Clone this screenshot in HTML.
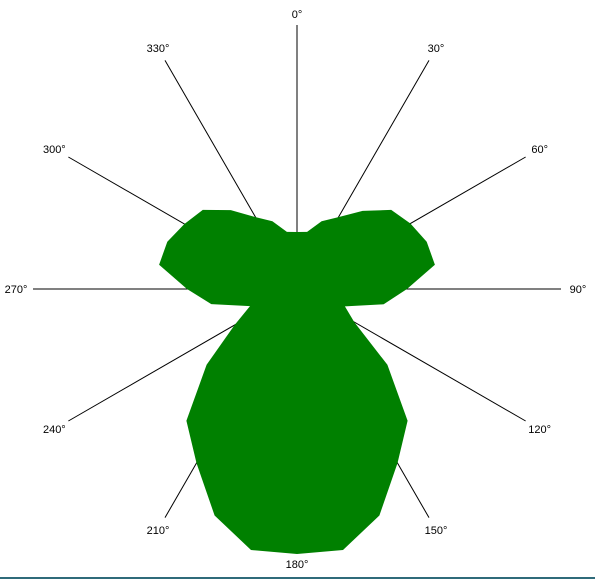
<!DOCTYPE html>
<html><head><meta charset="utf-8"><style>
html,body{margin:0;padding:0;background:#fff;width:595px;height:579px;overflow:hidden}
svg{display:block;font-family:"Liberation Sans",sans-serif;font-size:11px}
</style></head><body>
<svg id="chart" width="595" height="579" viewBox="0 0 595 579" xmlns="http://www.w3.org/2000/svg">
<g id="spokes"></g>
<g id="area"></g>
<g id="labels"></g>
<rect x="0" y="577" width="595" height="2" fill="#2f6b7a"></rect>
</svg>
<script>
const axisAngles = [0,30,60,90,120,150,180,210,240,270,300,330];
const axisLabels = ["0°","30°","60°","90°","120°","150°","180°","210°","240°","270°","300°","330°"];
const seriesAngles = [0,10,20,30,40,50,60,70,80,90,100,110,120,130,140,150,160,170,180,190,200,210,220,230,240,250,260,270,280,290,300,310,320,330,340,350];
const seriesValues = [57,58,72,83,102,123,131,138,140,110,88,51,66,118,172,201,241,265,265,265,241,201,172,118,72,50,87,110,140,138,130,123,103,83,72,58];
const maxValue = 264;

const NS = "http://www.w3.org/2000/svg";
const cx = 297, cy = 289, R = 264;
function rScale(v){ return v / maxValue * R; }
function pt(angleDeg, r){
  const a = angleDeg * Math.PI / 180;
  return [cx + r * Math.sin(a), cy - r * Math.cos(a)];
}
const spokes = document.getElementById('spokes');
const labels = document.getElementById('labels');
axisAngles.forEach((ang, i) => {
  const [x, y] = pt(ang, R);
  const ln = document.createElementNS(NS, 'line');
  ln.setAttribute('x1', cx); ln.setAttribute('y1', cy);
  ln.setAttribute('x2', x); ln.setAttribute('y2', y);
  ln.setAttribute('stroke', '#000'); ln.setAttribute('stroke-width', '1');
  
  
  spokes.appendChild(ln);
  const a = ang * Math.PI / 180;
  const lr = 275 + 6 * Math.abs(Math.sin(a));
  const [tx, ty] = pt(ang, lr);
  const t = document.createElementNS(NS, 'text');
  t.setAttribute('x', tx); t.setAttribute('y', ty + 4);
  t.setAttribute('text-anchor', 'middle');
  t.setAttribute('fill', '#000');
  t.textContent = axisLabels[i];
  
  
  labels.appendChild(t);
});
const pts = seriesAngles.map((ang, i) => pt(ang, rScale(seriesValues[i])).map(v => v.toFixed(1)).join(','));
const poly = document.createElementNS(NS, 'polygon');
poly.setAttribute('points', pts.join(' '));
poly.setAttribute('fill', '#008000');


document.getElementById('area').appendChild(poly);
</script>
</body></html>
